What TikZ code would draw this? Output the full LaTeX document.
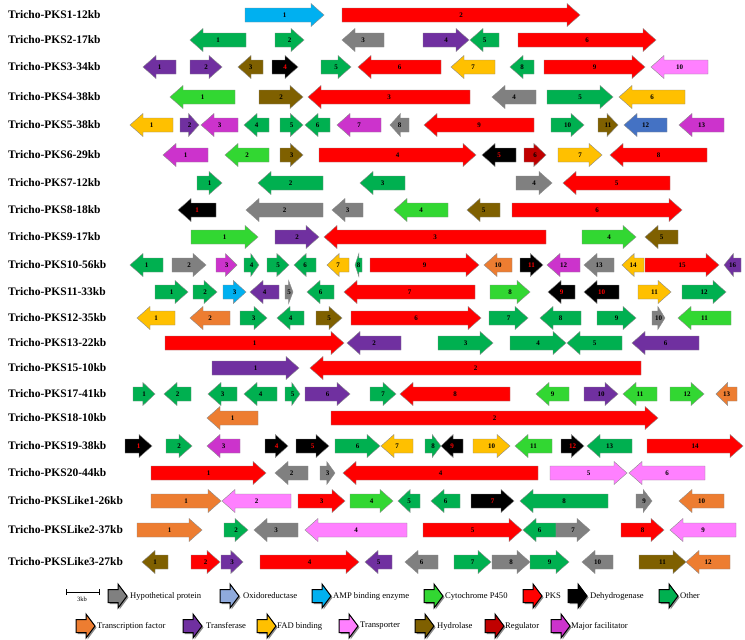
\documentclass[tikz,border=0pt]{standalone}
\usepackage{fontspec}
\setmainfont{Liberation Serif}
\definecolor{hyp}{RGB}{128,128,128}
\definecolor{oxi}{RGB}{143,170,220}
\definecolor{amp}{RGB}{0,176,240}
\definecolor{cyp}{RGB}{50,215,50}
\definecolor{pks}{RGB}{255,0,0}
\definecolor{deh}{RGB}{0,0,0}
\definecolor{oth}{RGB}{0,176,80}
\definecolor{tf}{RGB}{237,125,49}
\definecolor{trf}{RGB}{112,48,160}
\definecolor{fad}{RGB}{255,192,0}
\definecolor{tra}{RGB}{255,128,255}
\definecolor{hyd}{RGB}{127,96,0}
\definecolor{reg}{RGB}{192,0,0}
\definecolor{mfs}{RGB}{204,51,204}
\definecolor{blu}{RGB}{68,114,196}
\def\gbh{7}
\def\ghh{11.5}
\newcommand{\geneR}[6][black]{%
  \pgfmathsetmacro{\ghl}{min(13,0.55*(#4-#3))}%
  \filldraw[gene,fill=#5] (#3,{#2-\gbh}) -- ({#4-\ghl},{#2-\gbh}) -- ({#4-\ghl},{#2-\ghh}) -- (#4,#2) -- ({#4-\ghl},{#2+\ghh}) -- ({#4-\ghl},{#2+\gbh}) -- (#3,{#2+\gbh}) -- cycle;
  \node[glabel,text=#1] at ({(#3+#4)/2},#2) {#6};}
\newcommand{\geneL}[6][black]{%
  \pgfmathsetmacro{\ghl}{min(13,0.55*(#4-#3))}%
  \filldraw[gene,fill=#5] (#4,{#2-\gbh}) -- ({#3+\ghl},{#2-\gbh}) -- ({#3+\ghl},{#2-\ghh}) -- (#3,#2) -- ({#3+\ghl},{#2+\ghh}) -- ({#3+\ghl},{#2+\gbh}) -- (#4,{#2+\gbh}) -- cycle;
  \node[glabel,text=#1] at ({(#3+#4)/2},#2) {#6};}
\newcommand{\legarrow}[3]{%
  \fill[black!45] ({#1+1.5},{#2-6.5+1.5}) -- ({#1+10+1.5},{#2-6.5+1.5}) -- ({#1+10+1.5},{#2-12+1.5}) -- ({#1+19+1.5},{#2+1.5}) -- ({#1+10+1.5},{#2+12+1.5}) -- ({#1+10+1.5},{#2+6.5+1.5}) -- ({#1+1.5},{#2+6.5+1.5}) -- cycle;
  \filldraw[legbox,fill=#3] (#1,{#2-6.5}) -- ({#1+10},{#2-6.5}) -- ({#1+10},{#2-12}) -- ({#1+19},#2) -- ({#1+10},{#2+12}) -- ({#1+10},{#2+6.5}) -- (#1,{#2+6.5}) -- cycle;}
\begin{document}
\begin{tikzpicture}[x=1pt,y=-1pt,
  gene/.style={draw=black!45,line width=0.4pt,line join=miter},
  glabel/.style={font=\bfseries\fontsize{7}{8}\selectfont,inner sep=0pt},
  rowlabel/.style={font=\bfseries\fontsize{11.5}{12}\selectfont,anchor=west,inner sep=0pt},
  legbox/.style={draw=black,line width=1pt,line join=miter},
  legtext/.style={font=\fontsize{8.6}{10}\selectfont,anchor=west,inner sep=0pt}]
\useasboundingbox (0,0) rectangle (745,640);
\fill[white] (0,0) rectangle (745,640);
% row labels
\node[rowlabel] (l1) at (8,15) {Tricho-PKS1-12kb};
\node[rowlabel] (l2) at (8,40) {Tricho-PKS2-17kb};
\node[rowlabel] (l3) at (8,67) {Tricho-PKS3-34kb};
\node[rowlabel] (l4) at (8,97) {Tricho-PKS4-38kb};
\node[rowlabel] (l5) at (8,125) {Tricho-PKS5-38kb};
\node[rowlabel] (l6) at (8,155) {Tricho-PKS6-29kb};
\node[rowlabel] (l7) at (8,183) {Tricho-PKS7-12kb};
\node[rowlabel] (l8) at (8,210) {Tricho-PKS8-18kb};
\node[rowlabel] (l9) at (8,237) {Tricho-PKS9-17kb};
\node[rowlabel] (l10) at (8,265) {Tricho-PKS10-56kb};
\node[rowlabel] (l11) at (8,292) {Tricho-PKS11-33kb};
\node[rowlabel] (l12) at (8,318) {Tricho-PKS12-35kb};
\node[rowlabel] (l13) at (8,343) {Tricho-PKS13-22kb};
\node[rowlabel] (l14) at (8,368) {Tricho-PKS15-10kb};
\node[rowlabel] (l15) at (8,394) {Tricho-PKS17-41kb};
\node[rowlabel] (l16) at (8,418) {Tricho-PKS18-10kb};
\node[rowlabel] (l17) at (8,446) {Tricho-PKS19-38kb};
\node[rowlabel] (l18) at (8,473) {Tricho-PKS20-44kb};
\node[rowlabel] (l19) at (8,501) {Tricho-PKSLike1-26kb};
\node[rowlabel] (l20) at (8,530) {Tricho-PKSLike2-37kb};
\node[rowlabel] (l21) at (8,562) {Tricho-PKSLike3-27kb};
% R1
\geneR{15}{245}{324}{amp}{1} \geneR{15}{342}{580}{pks}{2}
% R2
\geneL{40}{190}{246}{oth}{1} \geneR{40}{275}{304}{oth}{2} \geneL{40}{342}{384}{hyp}{3} \geneR{40}{423}{469}{trf}{4} \geneL{40}{470}{499}{oth}{5} \geneR{40}{518}{656}{pks}{6}
% R3
\geneL{67}{143}{176}{trf}{1} \geneR{67}{190}{222}{trf}{2} \geneL{67}{238}{263}{hyd}{3} \geneR[red]{67}{272}{298}{deh}{4} \geneR{67}{321}{351}{oth}{5} \geneL{67}{358}{441}{pks}{6} \geneL{67}{451}{495}{fad}{7} \geneL{67}{510}{534}{oth}{8} \geneR{67}{544}{645}{pks}{9} \geneL{67}{651}{708}{tra}{10}
% R4
\geneL{97}{170}{235}{cyp}{1} \geneR{97}{259}{303}{hyd}{2} \geneL{97}{308}{470}{pks}{3} \geneL{97}{492}{536}{hyp}{4} \geneR{97}{547}{613}{oth}{5} \geneL{97}{619}{685}{fad}{6}
% R5
\geneL{125}{130}{173}{fad}{1} \geneR{125}{180}{199}{trf}{2} \geneL{125}{201}{238}{mfs}{3} \geneL{125}{244}{269}{oth}{4} \geneR{125}{280}{303}{oth}{5} \geneL{125}{305}{330}{oth}{6} \geneL{125}{337}{381}{mfs}{7} \geneL{125}{390}{409}{hyp}{8} \geneL{125}{424}{534}{pks}{9} \geneR{125}{551}{584}{oth}{10} \geneR{125}{598}{618}{hyd}{11} \geneL{125}{624}{667}{blu}{12} \geneL{125}{679}{724}{mfs}{13}
% R6
\geneL{155}{163}{208}{mfs}{1} \geneL{155}{225}{269}{cyp}{2} \geneR{155}{280}{303}{hyd}{3} \geneR{155}{319}{476}{pks}{4} \geneL[red]{155}{482}{516}{deh}{5} \geneR{155}{524}{546}{reg}{6} \geneR{155}{558}{602}{fad}{7} \geneL{155}{610}{707}{pks}{8}
% R7
\geneR{183}{197}{222}{oth}{1} \geneL{183}{258}{323}{oth}{2} \geneL{183}{360}{405}{oth}{3} \geneR{183}{516}{552}{hyp}{4} \geneL{183}{563}{670}{pks}{5}
% R8
\geneL[red]{210}{178}{216}{deh}{1} \geneL{210}{246}{323}{hyp}{2} \geneL{210}{332}{363}{hyp}{3} \geneL{210}{394}{448}{cyp}{4} \geneL{210}{467}{500}{hyd}{5} \geneR{210}{512}{682}{pks}{6}
% R9
\geneR{237}{191}{258}{cyp}{1} \geneR{237}{275}{319}{trf}{2} \geneL{237}{324}{546}{pks}{3} \geneR{237}{582}{636}{cyp}{4} \geneL{237}{645}{678}{hyd}{5}
% R10
\geneL{265}{130}{163}{oth}{1} \geneR{265}{172}{206}{hyp}{2} \geneR{265}{216}{237}{mfs}{3} \geneR{265}{244}{259}{oth}{4} \geneR{265}{267}{289}{oth}{5} \geneL{265}{294}{316}{oth}{6} \geneL{265}{327}{349}{fad}{7} \geneL{265}{355}{362}{oth}{8} \geneR{265}{370}{479}{pks}{9} \geneL{265}{484}{512}{tf}{10} \geneR[red]{265}{520}{543}{deh}{11} \geneL{265}{547}{580}{mfs}{12} \geneL{265}{584}{614}{hyp}{13} \geneL{265}{622}{644}{fad}{14} \geneR{265}{645}{719}{pks}{15} \geneL{265}{724}{741}{trf}{16}
% R11
\geneR{292}{155}{188}{oth}{1} \geneR{292}{193}{217}{oth}{2} \geneR{292}{223}{246}{amp}{3} \geneL{292}{250}{279}{trf}{4} \geneR{292}{285}{293}{hyp}{5} \geneL{292}{307}{334}{oth}{6} \geneL{292}{344}{475}{pks}{7} \geneR{292}{490}{530}{cyp}{8} \geneL[red]{292}{548}{575}{deh}{9} \geneL[red]{292}{584}{619}{deh}{10} \geneR{292}{638}{671}{fad}{11} \geneR{292}{682}{726}{oth}{12}
% R12
\geneL{318}{137}{175}{fad}{1} \geneL{318}{190}{230}{tf}{2} \geneR{318}{240}{267}{oth}{3} \geneL{318}{277}{304}{oth}{4} \geneR{318}{316}{342}{hyd}{5} \geneR{318}{351}{481}{pks}{6} \geneR{318}{489}{528}{oth}{7} \geneL{318}{540}{581}{oth}{8} \geneR{318}{597}{636}{oth}{9} \geneR{318}{652}{665}{hyp}{10} \geneL{318}{678}{731}{cyp}{11}
% R13
\geneR{343}{165}{344}{pks}{1} \geneL{343}{347}{401}{trf}{2} \geneR{343}{438}{493}{oth}{3} \geneR{343}{510}{566}{oth}{4} \geneL{343}{567}{622}{oth}{5} \geneL{343}{632}{699}{trf}{6}
% R14
\geneR{368}{212}{299}{trf}{1} \geneL{368}{310}{641}{pks}{2}
% R15
\geneR{394}{133}{155}{oth}{1} \geneL{394}{164}{191}{oth}{2} \geneL{394}{208}{237}{oth}{3} \geneL{394}{244}{277}{oth}{4} \geneR{394}{285}{300}{oth}{5} \geneR{394}{305}{350}{trf}{6} \geneR{394}{370}{396}{oth}{7} \geneL{394}{400}{510}{pks}{8} \geneL{394}{536}{569}{cyp}{9} \geneR{394}{584}{618}{trf}{10} \geneL{394}{623}{657}{cyp}{11} \geneR{394}{670}{704}{cyp}{12} \geneL{394}{716}{737}{tf}{13}
% R16
\geneL{418}{207}{258}{tf}{1} \geneR{418}{331}{658}{pks}{2}
% R17
\geneR[red]{446}{125}{152}{deh}{1} \geneR{446}{166}{192}{oth}{2} \geneL{446}{207}{240}{mfs}{3} \geneR[red]{446}{265}{288}{deh}{4} \geneR[red]{446}{296}{329}{deh}{5} \geneR{446}{335}{380}{oth}{6} \geneL{446}{381}{413}{fad}{7} \geneR{446}{425}{441}{oth}{8} \geneL[red]{446}{441}{463}{deh}{9} \geneR{446}{473}{510}{fad}{10} \geneL{446}{515}{552}{cyp}{11} \geneR[red]{446}{561}{584}{deh}{12} \geneL{446}{587}{632}{oth}{13} \geneR{446}{647}{743}{pks}{14}
% R18
\geneR{473}{151}{266}{pks}{1} \geneL{473}{275}{308}{hyp}{2} \geneR{473}{320}{335}{hyp}{3} \geneL{473}{343}{538}{pks}{4} \geneR{473}{550}{627}{tra}{5} \geneL{473}{629}{705}{tra}{6}
% R19
\geneR{501}{151}{221}{tf}{1} \geneL{501}{222}{291}{tra}{2} \geneR{501}{298}{345}{pks}{3} \geneR{501}{350}{393}{cyp}{4} \geneL{501}{398}{420}{oth}{5} \geneL{501}{431}{460}{oth}{6} \geneR[red]{501}{471}{514}{deh}{7} \geneL{501}{520}{608}{oth}{8} \geneR{501}{636}{652}{hyp}{9} \geneL{501}{679}{724}{tf}{10}
% R20
\geneR{530}{137}{202}{tf}{1} \geneR{530}{224}{248}{oth}{2} \geneL{530}{254}{298}{hyp}{3} \geneL{530}{305}{407}{tra}{4} \geneR{530}{423}{522}{pks}{5} \geneL{530}{523}{556}{oth}{6} \geneR{530}{556}{590}{hyp}{7} \geneR{530}{621}{664}{pks}{8} \geneL{530}{670}{736}{tra}{9}
% R21
\geneL{562}{142}{168}{hyd}{1} \geneR{562}{191}{220}{pks}{2} \geneR{562}{221}{243}{trf}{3} \geneR{562}{260}{359}{pks}{4} \geneL{562}{365}{392}{trf}{5} \geneL{562}{405}{438}{hyp}{6} \geneR{562}{454}{491}{oth}{7} \geneR{562}{492}{530}{hyp}{8} \geneR{562}{530}{569}{oth}{9} \geneL{562}{582}{613}{hyp}{10} \geneR{562}{639}{686}{hyd}{11} \geneL{562}{686}{730}{tf}{12}
% scale bar
\coordinate (sb1) at (66,592); \coordinate (sb2) at (99,592);
\draw[line width=0.6pt] (sb1) -- (sb2);
\draw[line width=0.6pt] (66,589) -- (66,595) (99,589) -- (99,595);
\node[font=\fontsize{6.5}{7}\selectfont,inner sep=0pt] (sbl) at (82,599) {3kb};
% legend row 1
\legarrow{108}{596}{hyp} \node[legtext] (t1) at (130,596) {Hypothetical protein};
\legarrow{220}{596}{oxi} \node[legtext] (t2) at (243,596) {Oxidoreductase};
\legarrow{312}{596}{amp} \node[legtext] (t3) at (333,596) {AMP binding enzyme};
\legarrow{424}{596}{cyp} \node[legtext] (t4) at (445,596) {Cytochrome P450};
\legarrow{523}{596}{pks} \node[legtext] (t5) at (545,596) {PKS};
\legarrow{568}{596}{deh} \node[legtext] (t6) at (590,596) {Dehydrogenase};
\legarrow{659}{596}{oth} \node[legtext] (t7) at (680,596) {Other};
% legend row 2
\legarrow{76}{626}{tf} \node[legtext] (u1) at (97,626) {Transcription factor};
\legarrow{183}{626}{trf} \node[legtext] (u2) at (206,626) {Transferase};
\legarrow{257}{626}{fad} \node[legtext] (u3) at (277,626) {FAD binding};
\legarrow{339}{626}{tra} \node[legtext] (u4) at (360,626) {Transporter};
\legarrow{415}{626}{hyd} \node[legtext] (u5) at (437,626) {Hydrolase};
\legarrow{485}{626}{reg} \node[legtext] (u6) at (505,626) {Regulator};
\legarrow{551}{626}{mfs} \node[legtext] (u7) at (571,626) {Major facilitator};
\end{tikzpicture}
\end{document}
